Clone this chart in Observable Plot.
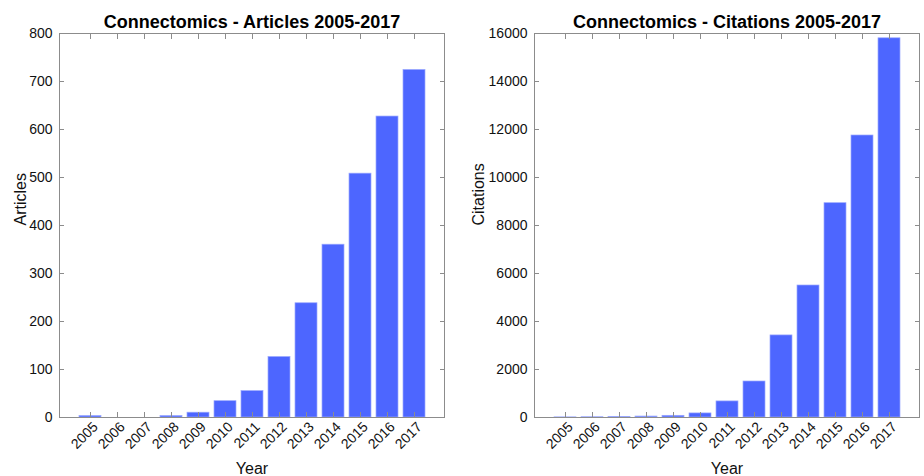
<!DOCTYPE html>
<html><head><meta charset="utf-8">
<script src="https://cdn.jsdelivr.net/npm/d3@7"></script>
<script src="https://cdn.jsdelivr.net/npm/@observablehq/plot@0.6"></script>
<style>
body{margin:0;background:#fff;}
#wrap{position:relative;width:924px;height:476px;}
.panel{position:absolute;top:0;width:462px;height:476px;}
</style></head><body><div id="wrap"></div>
<script>
const years = [2005,2006,2007,2008,2009,2010,2011,2012,2013,2014,2015,2016,2017];
const articles = [3,0,0,3,10,34,55,126,238,360,508,627,724];
const citations = [5,10,25,40,70,170,670,1500,3420,5500,8930,11750,15800];
const articleTicks = [0,100,200,300,400,500,600,700,800];
const citationTicks = [0,2000,4000,6000,8000,10000,12000,14000,16000];

const FONT = "Liberation Sans, Arial, Helvetica, sans-serif";
const AX = "#8c8c8c";

function panel({left, marginLeft, marginRight, values, ticks, ymax, ylabel, ydx, title}) {
  const data = years.map((year, i) => ({year, value: values[i]}));
  const chart = Plot.plot({
    width: 462, height: 476,
    marginLeft, marginRight, marginTop: 33, marginBottom: 59,
    style: {fontFamily: FONT, fontSize: "13px", color: "#111", background: "transparent", overflow: "visible"},
    x: {type: "band", domain: years, paddingInner: 0.2, paddingOuter: 0.6, label: null},
    y: {domain: [0, ymax], label: null},
    marks: [
      Plot.barY(data, {x: "year", y: "value", fill: "#4d66ff", stroke: "#9aa8ff", strokeWidth: 0.7}),
      Plot.frame({stroke: AX}),
      Plot.axisX({anchor: "bottom", ticks: years, tickSize: -5, text: null, label: null, stroke: AX}),
      Plot.axisX({anchor: "top", ticks: years, tickSize: -5, text: null, label: null, stroke: AX}),
      Plot.axisX({anchor: "bottom", ticks: years, tickSize: 0, tickPadding: 7, dx: 5, tickRotate: -45, tickFormat: d => String(d), label: null, fontSize: 14, fill: "#111"}),
      Plot.axisY({anchor: "left", ticks, tickSize: -5, text: null, label: null, stroke: AX}),
      Plot.axisY({anchor: "right", ticks, tickSize: -5, text: null, label: null, stroke: AX}),
      Plot.axisY({anchor: "left", ticks, tickSize: 0, tickPadding: 7, tickFormat: d => String(d), label: null, fontSize: 14, fill: "#111"}),
      Plot.text([title], {frameAnchor: "top", dy: -6, lineAnchor: "bottom", fontWeight: "bold", fontSize: 18, fill: "#000"}),
      Plot.text(["Year"], {frameAnchor: "bottom", dy: 51, lineAnchor: "middle", fontSize: 16, fill: "#111"}),
      Plot.text([ylabel], {frameAnchor: "left", dx: ydx, rotate: -90, lineAnchor: "middle", fontSize: 16, fill: "#111"})
    ]
  });
  const div = document.createElement("div");
  div.className = "panel";
  div.style.left = left + "px";
  div.appendChild(chart);
  document.getElementById("wrap").appendChild(div);
}

panel({left: 0, marginLeft: 59, marginRight: 18, values: articles, ticks: articleTicks, ymax: 800,
       ylabel: "Articles", ydx: -39, title: "Connectomics - Articles 2005-2017"});
panel({left: 462, marginLeft: 72, marginRight: 5, values: citations, ticks: citationTicks, ymax: 16000,
       ylabel: "Citations", ydx: -56, title: "Connectomics - Citations 2005-2017"});
</script></body></html>
